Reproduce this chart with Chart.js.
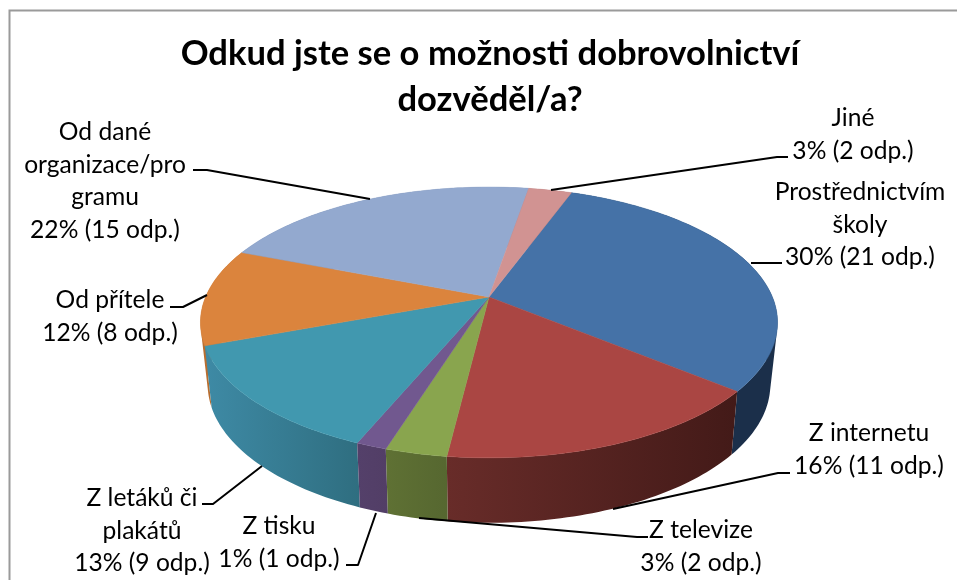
<!DOCTYPE html>
<html><head><meta charset="utf-8">
<style>html,body{margin:0;padding:0;background:#fff}canvas{display:block}</style>
<script src="https://cdn.jsdelivr.net/npm/chart.js@4"></script>
</head><body><canvas id="c" width="957" height="580"></canvas>
<script>
const titleLines = ["Odkud jste se o možnosti dobrovolnictví", "dozvěděl/a?"];
const categories = ["Prostřednictvím školy","Z internetu","Z televize","Z tisku","Z letáků či plakátů","Od přítele","Od dané organizace/programu","Jiné"];
const categoryLines = [["Prostřednictvím","školy"],["Z internetu"],["Z televize"],["Z tisku"],["Z letáků či","plakátů"],["Od přítele"],["Od dané","organizace/pro","gramu"],["Jiné"]];
const answers = [21,11,2,1,9,8,15,2];
const percents = [30,16,3,1,13,12,22,3];
const topColors = ["#4572A7","#AA4643","#89A54E","#71588F","#4198AF","#DB843D","#93A9CF","#D19392"];
const wallLeft  = ["#1b2f4a","#682c29","#5f7134","#54406a","#3e8aa5","#b86d2f","#6a7fa5","#9c6c6b"];
const wallRight = ["#1b2f4a","#431a18","#566730","#523e66","#2f6e80","#b86d2f","#6a7fa5","#9c6c6b"];

// layout of the value labels: centre x, first baseline, leader polyline
const labelLayout = [
  {x:860,y:200,lead:[[782,263],[751,263]]},
  {x:869,y:441,lead:[[790,473],[778,473],[613,509]]},
  {x:701,y:538,lead:[[648,537],[637,537],[419,518]]},
  {x:279,y:534,lead:[[346,565],[358,565],[376,513]]},
  {x:142,y:506,lead:[[202,504],[213,504],[262,466]]},
  {x:110,y:308,lead:[[170,307],[183,307],[207,295]]},
  {x:105,y:140,lead:[[193,170],[207,170],[370,199]]},
  {x:853,y:126,lead:[[788,157],[777,157],[551,190]]}
];
const lineStep = 32.7;
const labelFont = "24.6px Lato";

// perspective of the top and bottom faces
const cx = 489;
const topFace = {ay:297, R:283.4, H:130.6, p:0.188};
const botFace = {ay:358, R:276, H:133, p:0.193};
function proj(t, f){
  const x=Math.cos(t), y=Math.sin(t), w=1/(1-f.p*y);
  return [cx+f.R*x*w, f.ay+f.H*y*w];
}
function arcPts(a0,a1,f){
  const n=Math.max(2,Math.ceil((a1-a0)/0.02)), pts=[];
  for(let i=0;i<=n;i++) pts.push(proj(a0+(a1-a0)*i/n,f));
  return pts;
}
function sub(ctx,pts){
  pts.forEach((p,i)=> i?ctx.lineTo(p[0],p[1]):ctx.moveTo(p[0],p[1]));
  ctx.closePath();
}
function area(q){
  let s=0;
  q.forEach((p,i)=>{const r=q[(i+1)%q.length];s+=p[0]*r[1]-r[0]*p[1];});
  return s;
}
const pie3d = {
  id:'pie3d',
  beforeDraw(chart){
    const {ctx}=chart;
    ctx.save();
    ctx.fillStyle='#fff';ctx.fillRect(0,0,957,580);
    ctx.strokeStyle='#9a9a9a';ctx.lineWidth=2;
    ctx.beginPath();ctx.moveTo(9.5,580);ctx.lineTo(9.5,10.5);ctx.lineTo(957,10.5);ctx.stroke();
    ctx.restore();
  },
  beforeDatasetDraw(chart,args){
    const {ctx}=chart;
    const arcs=chart.getDatasetMeta(args.index).data;
    const items=arcs.map((el,i)=>({i,a0:el.startAngle,a1:el.endAngle,mid:Math.sin((el.startAngle+el.endAngle)/2)}));
    ctx.save();
    // side walls, far ones first: one swept path per slice, so the outline follows the tangent
    [...items].sort((u,v)=>u.mid-v.mid).forEach(s=>{
      const t=arcPts(s.a0,s.a1,topFace), b=arcPts(s.a0,s.a1,botFace);
      const xs=t.concat(b).map(p=>p[0]);
      const g=ctx.createLinearGradient(Math.min(...xs),0,Math.max(...xs),0);
      g.addColorStop(0,wallLeft[s.i]);g.addColorStop(1,wallRight[s.i]);
      ctx.beginPath();
      for(let k=0;k<t.length-1;k++){
        const q=[t[k],t[k+1],b[k+1],b[k]];
        sub(ctx,area(q)>0?q:q.slice().reverse());
      }
      ctx.fillStyle=g;ctx.fill('nonzero');
    });
    // top face
    items.forEach(s=>{
      const pts=[[cx,topFace.ay]].concat(arcPts(s.a0,s.a1,topFace));
      ctx.beginPath();sub(ctx,pts);ctx.fillStyle=topColors[s.i];ctx.fill();
      ctx.strokeStyle=topColors[s.i];ctx.lineWidth=0.5;ctx.stroke();
    });
    ctx.restore();
    return false;
  },
  afterDraw(chart){
    const {ctx}=chart;
    ctx.save();
    ctx.strokeStyle='#000';ctx.lineWidth=2;ctx.lineJoin='round';
    labelLayout.forEach(l=>{
      ctx.beginPath();
      l.lead.forEach((p,i)=> i?ctx.lineTo(p[0],p[1]):ctx.moveTo(p[0],p[1]));
      ctx.stroke();
    });
    ctx.fillStyle='#000';ctx.font=labelFont;ctx.textAlign='center';ctx.textBaseline='alphabetic';
    labelLayout.forEach((l,i)=>{
      const lines=categoryLines[i].concat([percents[i]+"% ("+answers[i]+" odp.)"]);
      lines.forEach((t,k)=>ctx.fillText(t,l.x,l.y+k*lineStep));
    });
    ctx.restore();
  }
};
new Chart(document.getElementById('c'),{
  type:'pie',
  data:{labels:categories,datasets:[{data:answers,backgroundColor:topColors,borderWidth:0}]},
  plugins:[pie3d],
  options:{
    responsive:false,animation:false,rotation:20,
    events:[],
    layout:{padding:{left:23,top:31}},
    plugins:{
      legend:{display:false},tooltip:{enabled:false},
      title:{display:true,text:titleLines,color:'#000',align:'center',
        font:{family:'Lato',size:34.6,weight:'bold',lineHeight:1.33},padding:0}
    }
  }
});
</script></body></html>
